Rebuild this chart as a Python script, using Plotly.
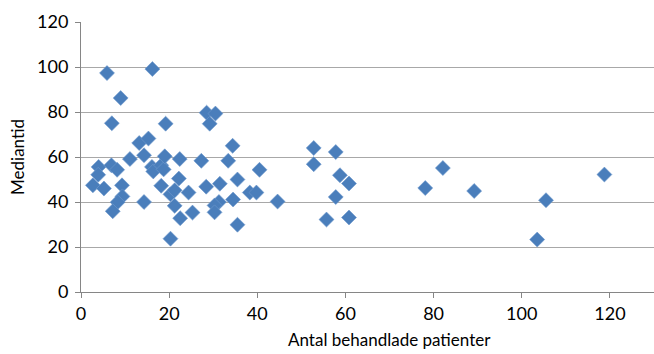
import plotly.graph_objects as go

# Antal behandlade patienter per enhet och mediantid
antal_patienter = [
    2.7, 4.0, 3.9, 5.2, 5.9, 6.9, 8.2, 7.0, 9.0, 9.3,
    9.4, 8.3, 7.2, 11.1, 13.2, 14.3, 14.3, 15.3, 16.2, 16.1,
    16.4, 18.2, 18.75, 19.0, 19.2, 18.2, 20.3, 21.25, 21.25, 22.4,
    22.2, 22.5, 20.3, 24.4, 25.3, 27.3, 28.5, 30.5, 29.2, 28.4,
    31.5, 31.3, 30.3, 30.3, 33.4, 34.4, 34.5, 35.5, 35.5, 38.3,
    39.8, 40.5, 44.6, 52.8, 52.8, 55.7, 57.8, 57.8, 58.75, 60.8,
    60.8, 78.1, 82.1, 89.2, 103.5, 105.5, 118.75,
]
mediantid = [
    47.4, 55.6, 52.1, 46.0, 97.3, 56.3, 54.3, 75.0, 86.2, 47.4,
    42.5, 39.9, 35.9, 59.1, 66.2, 40.0, 60.8, 68.2, 99.1, 55.6,
    53.6, 56.3, 54.5, 60.3, 74.8, 47.2, 43.4, 45.2, 38.3, 59.1,
    50.4, 32.8, 23.7, 44.2, 35.3, 58.3, 79.7, 79.3, 74.8, 46.8,
    48.1, 40.0, 38.5, 35.4, 58.3, 65.0, 41.1, 50.0, 29.9, 44.2,
    44.2, 54.3, 40.2, 64.0, 56.8, 32.2, 62.2, 42.2, 51.9, 48.2,
    33.1, 46.2, 55.1, 44.9, 23.3, 40.8, 52.2,
]

x_ticks = [0, 20, 40, 60, 80, 100, 120]
y_ticks = [0, 20, 40, 60, 80, 100, 120]
x_title = "Antal behandlade patienter"
y_title = "Mediantid"

font_family = "Lato, 'Open Sans', sans-serif"

fig = go.Figure(
    go.Scatter(
        x=antal_patienter,
        y=mediantid,
        mode="markers",
        marker=dict(
            symbol="diamond",
            size=11.5,
            color="#4A7EBB",
            line=dict(width=0.6, color="#6F98CC"),
        ),
        hoverinfo="x+y",
    )
)

fig.update_layout(
    width=654,
    height=354,
    margin=dict(l=81, r=0, t=22, b=62),
    paper_bgcolor="white",
    plot_bgcolor="white",
    showlegend=False,
    font=dict(family=font_family, color="#000000", size=16),
)

# The x axis runs to 140; the axis title sits at the middle of that full span
fig.add_annotation(
    text=x_title,
    x=70,
    xref="x",
    y=0,
    yref="paper",
    yanchor="top",
    yshift=-35,
    showarrow=False,
    font=dict(size=17, color="#000000"),
)

fig.update_xaxes(
    range=[0, 130],
    tickmode="array",
    tickvals=x_ticks,
    ticks="outside",
    ticklen=5,
    tickcolor="#868686",
    showline=True,
    linecolor="#868686",
    linewidth=1,
    showgrid=False,
    zeroline=False,
    tickfont=dict(size=18, color="#000000"),
)

fig.update_yaxes(
    range=[0, 120],
    tickmode="array",
    tickvals=y_ticks,
    ticks="outside",
    ticklen=5,
    tickcolor="#868686",
    showline=True,
    linecolor="#868686",
    linewidth=1,
    showgrid=True,
    gridcolor="#A8A8A8",
    gridwidth=1,
    zeroline=False,
    ticklabelstandoff=3,
    tickfont=dict(size=18, color="#000000"),
    title=dict(text=y_title, font=dict(size=17, color="#000000"), standoff=8),
)

fig.write_html("out.html")
